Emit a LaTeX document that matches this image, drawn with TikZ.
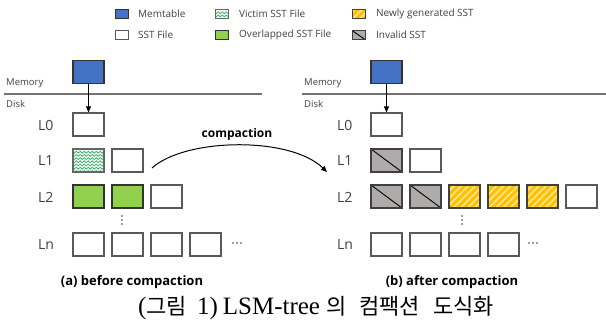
\documentclass[tikz,border=0pt]{standalone}
\usepackage{fontspec}
\setmainfont{Liberation Serif}
\setsansfont{Open Sans}
\newfontfamily\krfont{Noto Sans CJK KR}
\usetikzlibrary{arrows.meta,calc,patterns.meta,decorations.pathmorphing}

\definecolor{memblue}{HTML}{4472C4}
\definecolor{ovgreen}{HTML}{92D050}
\definecolor{newyellow}{HTML}{FFC000}
\definecolor{newlight}{HTML}{FFE699}
\definecolor{invgray}{HTML}{AFABAB}
\definecolor{victimbg}{HTML}{EAF6EE}
\definecolor{victimgreen}{HTML}{2EA866}
\definecolor{labelgray}{HTML}{404040}

\tikzset{
  sst/.style={draw=black!65, line width=1.2pt, fill=white, minimum width=31pt,
    minimum height=23pt, inner sep=0pt},
  memtable/.style={sst, draw=black!80, fill=memblue},
  overlapped/.style={sst, draw=black!80, fill=ovgreen},
  invalid/.style={sst, draw=black!75, fill=invgray,
    path picture={\draw[black, line width=0.9pt] (path picture bounding box.north west)
      -- (path picture bounding box.south east);}},
  newsst/.style={sst, draw=black!75, fill=newyellow,
    postaction={pattern={Lines[angle=45,distance=5pt,line width=1.6pt]}, pattern color=newlight},
    postaction={draw=black!75}},
  victim/.style={sst, draw=black!60, fill=victimbg,
    path picture={\foreach \k in {1,...,7}{
      \draw[victimgreen, line width=0.6pt, decorate, decoration={snake, amplitude=0.9pt, segment length=4pt}]
        ($(path picture bounding box.north west)+(-2pt,-\k*3.2pt)$) --
        ($(path picture bounding box.north east)+(2pt,-\k*3.2pt)$);}}},
  legendbox/.style={minimum width=13pt, minimum height=9pt, line width=0.9pt},
  legendtext/.style={anchor=west, inner sep=0pt, text=labelgray, font=\sffamily\fontsize{10}{11}\selectfont},
  level/.style={anchor=west, inner sep=0pt, text=labelgray, font=\sffamily\fontsize{14}{14}\selectfont},
  place/.style={anchor=west, inner sep=0pt, text=labelgray, font=\sffamily\fontsize{9.5}{10}\selectfont},
  subcap/.style={inner sep=0pt, font=\sffamily\bfseries\fontsize{13}{14}\selectfont},
  divider/.style={draw=black!55, line width=1.2pt},
  flow/.style={line width=1pt, -{Triangle[length=6pt,width=5pt]}},
  dot/.style={fill=black!75}
}

\begin{document}
\begin{tikzpicture}[x=1pt,y=-1pt]
  \useasboundingbox (0,0) rectangle (606,329);

  % legend
  \node[memtable, legendbox] (lgmem) at (121.5,14) {};
  \node[legendtext] at (138,14) {Memtable};
  \node[sst, legendbox] (lgsst) at (121.5,35) {};
  \node[legendtext] at (138,35) {SST File};
  \node[victim, legendbox] (lgvic) at (221.5,14) {};
  \node[legendtext] at (239,14) {Victim SST File};
  \node[overlapped, legendbox] (lgov) at (221.5,35) {};
  \node[legendtext] at (239,35) {Overlapped SST File};
  \node[newsst, legendbox, postaction={draw=black!75, line width=0.9pt}] (lgnew) at (358.5,14) {};
  \node[legendtext] at (376,14) {Newly generated SST};
  \node[invalid, legendbox] (lginv) at (358.5,35) {};
  \node[legendtext] at (376,35) {Invalid SST};

  % (a) before compaction
  \draw[divider] (4,94) -- (262,94);
  \node[place] at (6,83) {Memory};
  \node[place] at (6,104) {Disk};

  \node[memtable] (amem) at (88.5,72) {};
  \node[level] at (38,125) {L0};
  \node[sst] (a0) at (88.5,124.5) {};
  \node[level] at (38,161) {L1};
  \node[victim] (a11) at (88.5,160.5) {};
  \node[sst] (a12) at (127.5,160.5) {};
  \node[level] at (38,197) {L2};
  \node[overlapped] (a21) at (88.5,196.5) {};
  \node[overlapped] (a22) at (127.5,196.5) {};
  \node[sst] (a23) at (166.5,196.5) {};
  \node[level] at (38,245) {Ln};
  \node[sst] (an1) at (88.5,244.5) {};
  \node[sst] (an2) at (127.5,244.5) {};
  \node[sst] (an3) at (166.5,244.5) {};
  \node[sst] (an4) at (205.5,244.5) {};

  \draw[flow] (amem) -- (a0);
  \fill[dot] (122,216) circle (0.8) (122,220) circle (0.8) (122,224) circle (0.8);
  \fill[dot] (233,243) circle (0.8) (237,243) circle (0.8) (241,243) circle (0.8);
  \node[subcap] (acap) at (132,282) {(a) before compaction};

  % compaction arrow
  \coordinate (cfrom) at (152,168);
  \coordinate (cto) at (327,172);
  \draw[flow] (cfrom) .. controls (185,138) and (290,136) .. (cto);
  \node[font=\sffamily\bfseries\fontsize{12}{13}\selectfont, inner sep=0pt] (clabel) at (237,134) {compaction};

  % (b) after compaction
  \draw[divider] (302,94) -- (606,94);
  \node[place] at (304,83) {Memory};
  \node[place] at (304,104) {Disk};

  \node[memtable] (bmem) at (386.5,72) {};
  \node[level] at (337,125) {L0};
  \node[sst] (b0) at (386.5,124.5) {};
  \node[level] at (337,161) {L1};
  \node[invalid] (b11) at (386.5,160.5) {};
  \node[sst] (b12) at (425.5,160.5) {};
  \node[level] at (337,197) {L2};
  \node[invalid] (b21) at (386.5,196.5) {};
  \node[invalid] (b22) at (425.5,196.5) {};
  \node[newsst] (b23) at (464.5,196.5) {};
  \node[newsst] (b24) at (503.5,196.5) {};
  \node[newsst] (b25) at (542.5,196.5) {};
  \node[sst] (b26) at (581.5,196.5) {};
  \node[level] at (337,245) {Ln};
  \node[sst] (bn1) at (386.5,244.5) {};
  \node[sst] (bn2) at (425.5,244.5) {};
  \node[sst] (bn3) at (464.5,244.5) {};
  \node[sst] (bn4) at (503.5,244.5) {};

  \draw[flow] (bmem) -- (b0);
  \fill[dot] (462,216) circle (0.8) (462,220) circle (0.8) (462,224) circle (0.8);
  \fill[dot] (529,243) circle (0.8) (533,243) circle (0.8) (537,243) circle (0.8);
  \node[subcap] (bcap) at (452,282) {(b) after compaction};

  % caption
  \node[font=\fontsize{25}{26}\selectfont, inner sep=0pt] (figcap) at (316,308)
    {({\krfont\fontsize{22}{24}\selectfont 그림}\hspace{10pt}1)\hspace{5pt}LSM-tree\hspace{6pt}{\krfont\fontsize{22}{24}\selectfont 의}\hspace{13pt}{\krfont\fontsize{22}{24}\selectfont 컴팩션}\hspace{13pt}{\krfont\fontsize{22}{24}\selectfont 도식화}};
\end{tikzpicture}
\end{document}
